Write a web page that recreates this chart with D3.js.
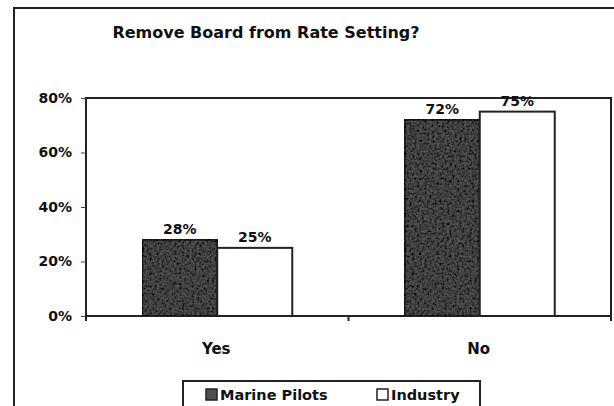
<!DOCTYPE html>
<html>
<head>
<meta charset="utf-8">
<script src="https://cdn.jsdelivr.net/npm/d3@7"></script>
<style>
  body { margin: 0; background: #fff; }
  text { font-family: "DejaVu Sans", Arial, sans-serif; font-weight: bold; fill: #111; }
</style>
</head>
<body>
<div id="chart"></div>
<script>
// chart values
var categories = ['Yes', 'No']
var seriesNames = ['Marine Pilots', 'Industry']
var marinePilots = [28, 72]
var industry = [25, 75]
var yTicks = [0, 20, 40, 60, 80]

var W = 614, H = 406
var margin = {left: 86, right: 3, top: 98, bottom: 90}
var width = W - margin.left - margin.right
var height = H - margin.top - margin.bottom

var svg = d3.select('#chart').append('svg')
  .attr('width', W).attr('height', H)

// grain for the dark bars
var defs = svg.append('defs')
var f = defs.append('filter').attr('id', 'grain').attr('x', 0).attr('y', 0).attr('width', 1).attr('height', 1)
f.append('feTurbulence').attr('type', 'fractalNoise').attr('baseFrequency', 0.4).attr('numOctaves', 2).attr('seed', 4).attr('result', 'noise')
f.append('feColorMatrix').attr('in', 'noise').attr('type', 'matrix')
  .attr('values', '0 0 0 0 0  0 0 0 0 0  0 0 0 0 0  0 0 0 -2.2 1.45').attr('result', 'dots')
f.append('feComposite').attr('in', 'dots').attr('in2', 'SourceGraphic').attr('operator', 'in').attr('result', 'clipped')
f.append('feMerge').selectAll('feMergeNode').data(['SourceGraphic', 'clipped']).join('feMergeNode').attr('in', d => d)

// outer frame
svg.append('rect').attr('x', 14).attr('y', 8).attr('width', 620).attr('height', 420)
  .attr('fill', 'none').attr('stroke', '#222').attr('stroke-width', 2)

svg.append('text').attr('x', 266).attr('y', 38).attr('text-anchor', 'middle')
  .style('font-size', '16px').text('Remove Board from Rate Setting?')

var g = svg.append('g').attr('transform', 'translate(' + margin.left + ',' + margin.top + ')')

var x0 = d3.scaleBand().domain(categories).range([0, width]).paddingInner(0).paddingOuter(0)
var x1 = d3.scaleBand().domain(seriesNames).range([0, 150])
var y = d3.scaleLinear().domain([0, 80]).range([height, 0])

var data = categories.map((c, i) => ({cat: c, values: [
  {name: seriesNames[0], v: marinePilots[i]},
  {name: seriesNames[1], v: industry[i]}
]}))

// plot box
g.append('rect').attr('width', width).attr('height', height)
  .attr('fill', 'none').attr('stroke', '#222').attr('stroke-width', 2)

var groups = g.selectAll('g.grp').data(data).join('g')
  .attr('transform', d => 'translate(' + (x0(d.cat) + (x0.bandwidth() - 150) / 2) + ',0)')

groups.selectAll('rect').data(d => d.values).join('rect')
  .attr('x', d => x1(d.name))
  .attr('y', d => y(d.v))
  .attr('width', x1.bandwidth())
  .attr('height', d => height - y(d.v))
  .attr('fill', d => d.name == 'Industry' ? '#fff' : '#505050')
  .attr('filter', d => d.name == 'Industry' ? null : 'url(#grain)')
  .attr('stroke', '#222').attr('stroke-width', 2)

groups.selectAll('text').data(d => d.values).join('text')
  .attr('x', d => x1(d.name) + x1.bandwidth() / 2)
  .attr('y', d => y(d.v) - 6)
  .attr('text-anchor', 'middle')
  .style('font-size', '14px')
  .text(d => d.v + '%')

// y axis
var yAxis = d3.axisLeft(y).tickValues(yTicks).tickFormat(d => d + '%').tickSize(5).tickPadding(9)
var ya = g.append('g').call(yAxis)
ya.select('.domain').remove()
ya.selectAll('line').attr('stroke', '#444')
ya.selectAll('text').style('font-size', '14px').style('font-family', '"DejaVu Sans", Arial, sans-serif')
  .attr('fill', '#111').attr('font-weight', 'bold')

// x axis
var xa = g.append('g').attr('transform', 'translate(0,' + height + ')')
xa.selectAll('line').data([0, width / 2, width]).join('line')
  .attr('x1', d => d).attr('x2', d => d).attr('y1', 0).attr('y2', 5).attr('stroke', '#222').attr('stroke-width', 2)
xa.selectAll('text').data(categories).join('text')
  .attr('x', d => x0(d) + x0.bandwidth() / 2 - 1)
  .attr('y', 38).attr('text-anchor', 'middle')
  .style('font-size', '15px').text(d => d)

// legend
var lg = svg.append('g')
lg.append('rect').attr('x', 183).attr('y', 381).attr('width', 297).attr('height', 40)
  .attr('fill', '#fff').attr('stroke', '#222').attr('stroke-width', 2)
var items = [{name: seriesNames[0], x: 206}, {name: seriesNames[1], x: 377}]
items.forEach(function(it){
  lg.append('rect').attr('x', it.x).attr('y', 389).attr('width', 11).attr('height', 11)
    .attr('fill', it.name == 'Industry' ? '#fff' : '#505050')
    .attr('stroke', '#222').attr('stroke-width', 1.5)
  lg.append('text').attr('x', it.x + 14).attr('y', 400).style('font-size', '14.5px').text(it.name)
})
</script>
</body>
</html>
